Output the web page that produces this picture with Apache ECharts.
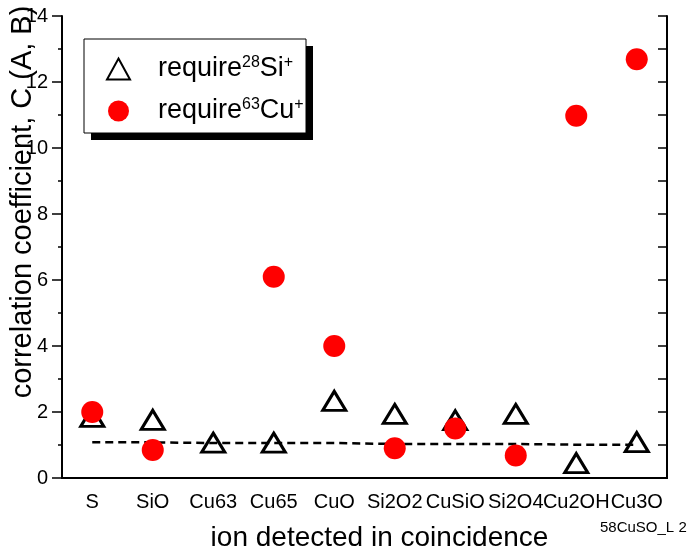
<!DOCTYPE html>
<html>
<head>
<meta charset="utf-8">
<script src="https://cdn.jsdelivr.net/npm/echarts@6/dist/echarts.min.js"></script>
<style>
  html, body { margin: 0; padding: 0; background: #fff; }
  #chart { width: 693px; height: 552px; }
</style>
</head>
<body>
<div id="chart"></div>
<script>
var ions = ['S', 'SiO', 'Cu63', 'Cu65', 'CuO', 'Si2O2', 'CuSiO', 'Si2O4', 'Cu2OH', 'Cu3O'];
var requireSi = [1.85, 1.76, 1.07, 1.07, 2.34, 1.94, 1.75, 1.94, 0.45, 1.09];
var requireCu = [2.0, 0.85, null, 6.1, 4.0, 0.9, 1.5, 0.68, 10.98, 12.69];
var baseline = [1.08, 1.08, 1.06, 1.06, 1.06, 1.03, 1.03, 1.03, 1.01, 1.01];
var yTicks = [0, 14, 2];

var font = 'Liberation Sans, Arial, sans-serif';
var chart = echarts.init(document.getElementById('chart'));

var option = {
    animation: false,
    backgroundColor: '#fff',
    textStyle: { fontFamily: font, color: '#000' },
    grid: { left: 62, right: 26, top: 16, bottom: 74, containLabel: false, outerBoundsMode: 'none' },
    legend: {
        orient: 'vertical',
        left: 84,
        top: 39,
        padding: [16, 10, 8, 22],
        itemGap: 14,
        itemWidth: 23,
        itemHeight: 21,
        z: 10,
        data: ['Si', 'Cu'],
        formatter: function (name) {
            if (name === 'Si') return '{a|require}{s|28}{a|Si}{s|+}';
            return '{a|require}{s|63}{a|Cu}{s|+}';
        },
        textStyle: {
            padding: [0, 0, 0, 23],
            rich: {
                a: { fontSize: 27, fontFamily: font, color: '#000', lineHeight: 30 },
                s: { fontSize: 16, fontFamily: font, color: '#000', lineHeight: 30, padding: [0, 0, 12, 0] }
            }
        }
    },
    xAxis: [{
        type: 'category',
        data: ions,
        position: 'bottom',
        name: 'ion detected in coincidence',
        nameLocation: 'middle',
        nameGap: 46,
        nameTextStyle: { fontSize: 28, fontFamily: font, color: '#000', padding: [0, 0, 0, 30] },
        axisLine: { lineStyle: { color: '#000', width: 2 } },
        axisTick: { alignWithLabel: true, length: 8, lineStyle: { color: '#000', width: 1.5 } },
        axisLabel: { interval: 0, fontSize: 20, margin: 14, color: '#000', fontFamily: font },
        splitLine: { show: false }
    }, {
        type: 'category',
        data: ions,
        position: 'top',
        axisLine: { lineStyle: { color: '#000', width: 2 } },
        axisTick: { alignWithLabel: true, inside: true, length: 9, lineStyle: { color: '#000', width: 1.5 } },
        axisLabel: { show: false },
        splitLine: { show: false }
    }],
    yAxis: [{
        type: 'value',
        min: yTicks[0],
        max: yTicks[1],
        interval: yTicks[2],
        axisLine: { show: true, lineStyle: { color: '#000', width: 2 } },
        axisTick: { show: true, length: 10, lineStyle: { color: '#000', width: 1.5 } },
        minorTick: { show: true, splitNumber: 2, length: 4, lineStyle: { color: '#000', width: 1.5 } },
        axisLabel: { fontSize: 20, margin: 14, color: '#000', fontFamily: font },
        splitLine: { show: false }
    }, {
        type: 'value',
        position: 'right',
        min: yTicks[0],
        max: yTicks[1],
        interval: 1,
        axisLine: { show: true, lineStyle: { color: '#000', width: 2 } },
        axisTick: { show: true, inside: true, length: 9, lineStyle: { color: '#000', width: 1.5 } },
        axisLabel: { show: false },
        splitLine: { show: false }
    }],
    graphic: [{
        type: 'rect',
        z: 5,
        shape: { x: 91, y: 46, width: 222, height: 94 },
        style: { fill: '#000' }
    }, {
        type: 'rect',
        z: 6,
        shape: { x: 84, y: 39, width: 222, height: 94 },
        style: { fill: '#fff', stroke: '#000', lineWidth: 1 }
    }, {
        type: 'text',
        rotation: Math.PI / 2,
        x: 23,
        y: 202,
        style: {
            text: 'correlation coefficient, C (A, B)',
            font: '29px ' + font,
            fill: '#000',
            align: 'center',
            verticalAlign: 'middle'
        }
    }, {
        type: 'text',
        x: 600,
        y: 520,
        style: {
            text: '58CuSO_L 2',
            font: '15px ' + font,
            fill: '#000'
        }
    }],
    series: [{
        name: 'base',
        type: 'line',
        data: baseline,
        symbol: 'none',
        lineStyle: { color: '#000', width: 2.5, type: [8, 5] },
        z: 1
    }, {
        name: 'Si',
        type: 'scatter',
        data: requireSi,
        symbol: 'triangle',
        symbolSize: [23, 19],
        itemStyle: { color: 'rgba(255,255,255,0)', borderColor: '#000', borderWidth: 3, opacity: 1 },
        z: 2
    }, {
        name: 'Cu',
        type: 'scatter',
        data: requireCu,
        symbol: 'circle',
        symbolSize: 22,
        itemStyle: { color: '#ff0000', opacity: 1 },
        z: 3
    }]
};
chart.setOption(option);
</script>
</body>
</html>
